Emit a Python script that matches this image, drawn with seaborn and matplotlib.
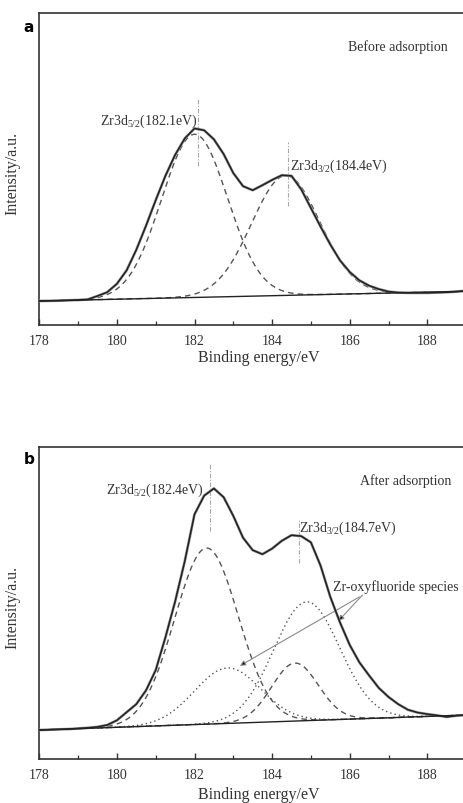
import numpy as np
import pandas as pd
import matplotlib
matplotlib.use("Agg")
import matplotlib.pyplot as plt
import seaborn as sns

# ---- measured Zr 3d spectra (binding energy grid, 0.25 eV steps) ----
energy = [178.0 + 0.25 * i for i in range(45)]

intensity_before = [
    7.7, 7.75, 7.8, 7.9, 8.0, 8.2, 9.3, 10.5, 13.2, 17.5,
    24.1, 31.8, 40.0, 47.8, 54.5, 59.8, 63.0, 62.4, 59.5, 54.8,
    48.7, 44.5, 43.2, 44.8, 46.5, 48.0, 47.8, 43.5, 37.5, 31.5,
    25.8, 20.7, 17.0, 14.3, 12.6, 11.5, 10.7, 10.4, 10.3, 10.3,
    10.3, 10.4, 10.5, 10.7, 11.0,
]

intensity_after = [
    9.3, 9.4, 9.5, 9.6, 9.8, 10.0, 10.3, 10.9, 12.4, 15.0,
    17.6, 22.0, 28.5, 39.0, 50.5, 63.5, 78.5, 84.5, 86.8, 84.0,
    78.0, 71.0, 67.0, 65.7, 67.5, 70.0, 71.8, 71.5, 69.5, 62.0,
    52.0, 43.8, 36.6, 31.0, 26.8, 22.8, 19.9, 17.6, 15.8, 14.9,
    14.4, 14.0, 13.5, 13.9, 14.1,
]

# ---- linear backgrounds: values at 178 eV and 189 eV ----
bg_energy = [178.0, 189.0]
bg_before = [7.7, 10.8]
bg_after = [9.3, 14.1]

# ---- fitted Gaussian components: centre (eV), height, sigma (eV) ----
zr_before_center = [182.0, 184.35]
zr_before_height = [52.3, 38.4]
zr_before_sigma = [0.85, 0.88]

zr_after_center = [182.31, 184.59]
zr_after_height = [56.5, 18.6]
zr_after_sigma = [0.82, 0.60]

oxyf_after_center = [182.85, 184.89]
oxyf_after_height = [17.8, 38.1]
oxyf_after_sigma = [0.85, 0.85]

# ---- peak position labels (eV) ----
peaks_before = [182.1, 184.4]
peaks_after = [182.4, 184.7]

sns.set_theme(style="white")
plt.rcParams["font.family"] = ["Liberation Serif", "DejaVu Serif"]
plt.rcParams["mathtext.fontset"] = "custom"
plt.rcParams["mathtext.rm"] = "Liberation Serif"

INK = "#222222"
TXT = "#333333"
COMP = "#555555"

fig = plt.figure(figsize=(4.63, 8.04), dpi=100)
W, H = 463.0, 804.0
ax_w = 11 * 38.8 / W
ax_a = fig.add_axes([39.3 / W, (H - 326) / H, ax_w, 312 / H])
ax_b = fig.add_axes([39.3 / W, (H - 760) / H, ax_w, 311.7 / H])

grid = np.linspace(178, 189, 600)


def background(bg):
    return np.interp(grid, bg_energy, bg)


def component(bg, c, h, s):
    return background(bg) + h * np.exp(-((grid - c) ** 2) / (2 * s ** 2))


def draw_spectrum(ax, values, bg):
    df = pd.DataFrame({"E": energy, "I": values})
    sns.lineplot(data=df, x="E", y="I", ax=ax, color="#a0a0a0", lw=2.0, zorder=3)
    sns.lineplot(data=df, x="E", y="I", ax=ax, color=INK, lw=1.15, zorder=4)
    bdf = pd.DataFrame({"E": bg_energy, "I": bg})
    sns.lineplot(data=bdf, x="E", y="I", ax=ax, color=INK, lw=1.0, zorder=3)


def draw_components(ax, bg, centers, heights, sigmas, style):
    for c, h, s in zip(centers, heights, sigmas):
        cdf = pd.DataFrame({"E": grid, "I": component(bg, c, h, s)})
        sns.lineplot(data=cdf, x="E", y="I", ax=ax, color=COMP, lw=1.0,
                     linestyle=style, zorder=2)


def style_axes(ax, xlabel_y):
    ax.set_xlim(178, 189)
    ax.set_ylim(0, 100)
    ax.set_yticks([])
    ax.set_xticks([178, 180, 182, 184, 186, 188])
    ax.set_xticks([179, 181, 183, 185, 187], minor=True)
    ax.tick_params(axis="x", which="major", direction="in", length=4.5, width=1.0,
                   labelsize=10, pad=6.5, colors=TXT, bottom=True, top=False)
    ax.tick_params(axis="x", which="minor", direction="in", length=3, width=0.9,
                   bottom=True, top=False, colors=TXT)
    for sp in ax.spines.values():
        sp.set_color("#333333")
        sp.set_linewidth(1.2)
    ax.spines["right"].set_visible(False)
    ax.set_xlabel("Binding energy/eV", fontsize=11.5, color=TXT)
    ax.set_ylabel("Intensity/a.u.", fontsize=11.5, color=TXT)
    ax.xaxis.set_label_coords(0.515, xlabel_y)
    ax.xaxis.label.set_va("top")
    ax.yaxis.set_label_coords(-0.044, 0.49)


def marker(ax, x, y0, y1):
    ax.plot([x, x], [y0, y1], color="#a8a8a8", lw=0.8, linestyle=(0, (4, 1.5, 1, 1.5)),
            zorder=1)


# ---------------- panel a ----------------
draw_components(ax_a, bg_before, zr_before_center, zr_before_height, zr_before_sigma,
                (0, (4, 3)))
draw_spectrum(ax_a, intensity_before, bg_before)
marker(ax_a, peaks_before[0], 51.1, 72.4)
marker(ax_a, peaks_before[1], 38.2, 58.5)
ax_a.text(peaks_before[0] - 0.02, 64.4, f"Zr3d$_{{\\mathregular{{5/2}}}}$({peaks_before[0]}eV)",
          ha="right", va="baseline", fontsize=10, color=TXT)
ax_a.text(peaks_before[1] + 0.06, 50.0, f"Zr3d$_{{\\mathregular{{3/2}}}}$({peaks_before[1]}eV)",
          ha="left", va="baseline", fontsize=10, color=TXT)
ax_a.text(185.95, 89.5, "Before adsorption", ha="left", va="center", fontsize=10, color=TXT)
style_axes(ax_a, -0.077)

# ---------------- panel b ----------------
draw_components(ax_b, bg_after, zr_after_center, zr_after_height, zr_after_sigma,
                (0, (4, 3)))
draw_components(ax_b, bg_after, oxyf_after_center, oxyf_after_height, oxyf_after_sigma,
                (0, (1, 2.2)))
draw_spectrum(ax_b, intensity_after, bg_after)
marker(ax_b, peaks_after[0], 73.2, 94.6)
marker(ax_b, peaks_after[1], 62.8, 76.7)
ax_b.text(peaks_after[0] - 0.16, 85.3, f"Zr3d$_{{\\mathregular{{5/2}}}}$({peaks_after[0]}eV)",
          ha="right", va="baseline", fontsize=10, color=TXT)
ax_b.text(peaks_after[1] - 0.01, 73.2, f"Zr3d$_{{\\mathregular{{3/2}}}}$({peaks_after[1]}eV)",
          ha="left", va="baseline", fontsize=10, color=TXT)
ax_b.text(186.27, 89.5, "After adsorption", ha="left", va="center", fontsize=10, color=TXT)
ax_b.text(185.58, 55.5, "Zr-oxyfluoride species", ha="left", va="center", fontsize=10,
          color=TXT)
arrow_kw = dict(arrowstyle="-|>", color="#8a8a8a", lw=0.8, mutation_scale=8,
                shrinkA=0, shrinkB=0)
ax_b.annotate("", xy=(185.71, 44.3), xytext=(186.33, 52.6),
              arrowprops=dict(arrow_kw, fc="black"))
ax_b.annotate("", xy=(183.17, 29.9), xytext=(186.25, 52.0),
              arrowprops=dict(arrow_kw, fc="black"))
style_axes(ax_b, -0.088)

for ax in (ax_a, ax_b):
    leg = ax.get_legend()
    if leg is not None:
        leg.remove()

fig.text(29 / W, 1 - 27 / H, "a", fontsize=11, fontweight="bold",
         family=["DejaVu Sans"], ha="center", va="center", color="black")
fig.text(29 / W, 1 - 460 / H, "b", fontsize=11, fontweight="bold",
         family=["DejaVu Sans"], ha="center", va="center", color="black")

fig.savefig("out.png", dpi=100)
